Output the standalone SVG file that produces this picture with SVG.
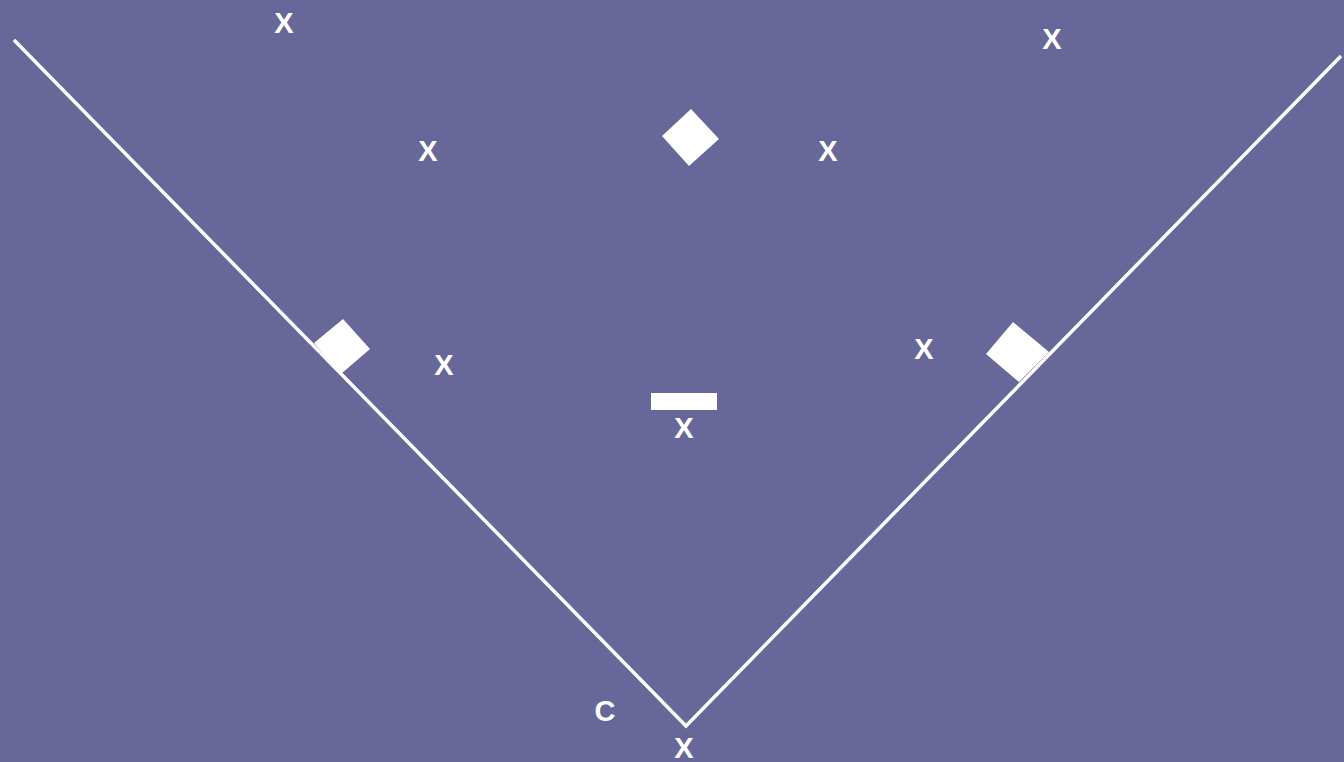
<svg xmlns="http://www.w3.org/2000/svg" width="1344" height="762" viewBox="0 0 1344 762">
<style>
.lbl{font-family:"Liberation Sans",Arial,sans-serif;font-weight:bold;font-size:29px;fill:#ffffff;text-anchor:middle}
.base{fill:#ffffff}
.line{stroke:#ffffff;stroke-width:3.5;fill:none}
</style>
<rect x="0" y="0" width="1344" height="762" fill="#676799"/>
<g id="connectors">
<polyline class="line" points="14,40 686,726 1341,56"/>
</g>
<g id="second-base"><polygon class="base" points="691,109 719,139 689,166 662,136"/></g>
<g id="third-base"><polygon class="base" points="343,319 370,349 341,374 314,343"/></g>
<g id="first-base"><polygon class="base" points="1013,322 1049,352 1019,382 986,354"/></g>
<g id="pitcher-plate"><rect class="base" x="651" y="393" width="66" height="17"/></g>
<g id="labels">
<text class="lbl" x="284" y="33">X</text>
<text class="lbl" x="1052" y="49">X</text>
<text class="lbl" x="428" y="161">X</text>
<text class="lbl" x="828" y="161">X</text>
<text class="lbl" x="444" y="375">X</text>
<text class="lbl" x="924" y="359">X</text>
<text class="lbl" x="684" y="438">X</text>
<text class="lbl" x="605" y="721">C</text>
<text class="lbl" x="684" y="758">X</text>
</g>
</svg>
